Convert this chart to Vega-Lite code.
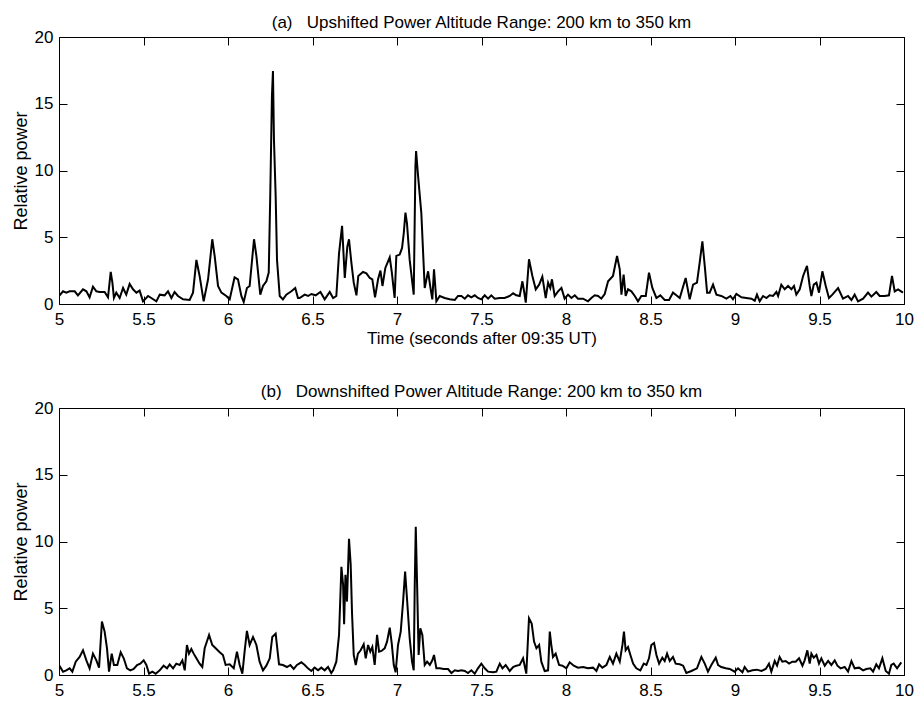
{
"$schema": "https://vega.github.io/schema/vega-lite/v6.json",
"padding": {"left": 11, "top": 13, "right": 6, "bottom": 0},
"spacing": 35,
"background": "white",
"config": {
  "font": "Liberation Sans",
  "view": {"stroke": "black", "strokeWidth": 1},
  "axis": {"grid": false, "domain": false, "tickColor": "black", "tickSize": -8, "tickWidth": 1, "labelColor": "black", "labelFontSize": 17, "labelFont": "Liberation Sans", "titleFont": "Liberation Sans", "titleFontSize": 17, "titleFontWeight": "normal", "titleColor": "black", "labelFlush": false, "labelOverlap": false},
  "title": {"fontSize": 17, "fontWeight": "normal", "font": "Liberation Sans", "color": "black", "anchor": "middle"}
},
"datasets": {
"up": [
{"t":5.0,"v":0.6},{"t":5.024,"v":0.95},{"t":5.043,"v":0.85},{"t":5.063,"v":0.95},{"t":5.093,"v":0.95},{"t":5.112,"v":0.65},{"t":5.142,"v":1.1},{"t":5.162,"v":0.95},{"t":5.181,"v":0.5},{"t":5.201,"v":1.3},{"t":5.221,"v":0.95},{"t":5.241,"v":0.9},{"t":5.27,"v":0.9},{"t":5.29,"v":0.5},{"t":5.306,"v":2.4},{"t":5.316,"v":1.6},{"t":5.325,"v":0.45},{"t":5.339,"v":0.85},{"t":5.359,"v":0.45},{"t":5.379,"v":1.2},{"t":5.398,"v":0.7},{"t":5.418,"v":1.5},{"t":5.438,"v":1.1},{"t":5.458,"v":0.85},{"t":5.477,"v":1.0},{"t":5.497,"v":0.2},{"t":5.527,"v":0.6},{"t":5.546,"v":0.45},{"t":5.576,"v":0.2},{"t":5.596,"v":0.7},{"t":5.625,"v":0.65},{"t":5.645,"v":0.95},{"t":5.665,"v":0.45},{"t":5.684,"v":0.9},{"t":5.704,"v":0.6},{"t":5.734,"v":0.35},{"t":5.773,"v":0.3},{"t":5.793,"v":0.85},{"t":5.813,"v":3.3},{"t":5.832,"v":2.1},{"t":5.856,"v":0.2},{"t":5.882,"v":1.85},{"t":5.907,"v":4.85},{"t":5.921,"v":3.6},{"t":5.941,"v":1.35},{"t":5.961,"v":0.85},{"t":5.99,"v":0.6},{"t":6.01,"v":0.35},{"t":6.039,"v":2.0},{"t":6.059,"v":1.85},{"t":6.079,"v":0.6},{"t":6.093,"v":0.15},{"t":6.112,"v":1.2},{"t":6.128,"v":1.35},{"t":6.154,"v":4.85},{"t":6.168,"v":3.6},{"t":6.191,"v":0.7},{"t":6.207,"v":1.35},{"t":6.227,"v":1.7},{"t":6.241,"v":2.35},{"t":6.25,"v":8.1},{"t":6.26,"v":15.6},{"t":6.266,"v":17.45},{"t":6.272,"v":12.3},{"t":6.282,"v":8.1},{"t":6.29,"v":3.3},{"t":6.306,"v":0.6},{"t":6.325,"v":0.35},{"t":6.345,"v":0.7},{"t":6.375,"v":0.95},{"t":6.398,"v":1.2},{"t":6.414,"v":0.45},{"t":6.424,"v":0.45},{"t":6.454,"v":0.7},{"t":6.474,"v":0.6},{"t":6.493,"v":0.75},{"t":6.519,"v":0.65},{"t":6.547,"v":0.9},{"t":6.572,"v":0.35},{"t":6.602,"v":0.9},{"t":6.622,"v":0.45},{"t":6.641,"v":0.6},{"t":6.657,"v":3.8},{"t":6.675,"v":5.85},{"t":6.691,"v":1.95},{"t":6.706,"v":4.3},{"t":6.716,"v":4.85},{"t":6.73,"v":3.1},{"t":6.744,"v":1.6},{"t":6.76,"v":0.65},{"t":6.771,"v":2.1},{"t":6.799,"v":2.4},{"t":6.819,"v":2.3},{"t":6.839,"v":1.95},{"t":6.854,"v":1.85},{"t":6.87,"v":0.5},{"t":6.888,"v":1.85},{"t":6.902,"v":2.5},{"t":6.914,"v":1.35},{"t":6.931,"v":2.7},{"t":6.957,"v":3.5},{"t":6.969,"v":2.4},{"t":6.986,"v":0.45},{"t":6.996,"v":3.6},{"t":7.016,"v":3.7},{"t":7.03,"v":4.2},{"t":7.04,"v":5.3},{"t":7.05,"v":6.85},{"t":7.059,"v":6.05},{"t":7.075,"v":3.3},{"t":7.099,"v":0.7},{"t":7.109,"v":10.3},{"t":7.113,"v":11.45},{"t":7.125,"v":9.55},{"t":7.144,"v":6.8},{"t":7.164,"v":1.2},{"t":7.184,"v":2.45},{"t":7.198,"v":1.2},{"t":7.209,"v":0.35},{"t":7.219,"v":2.6},{"t":7.233,"v":0.2},{"t":7.253,"v":0.6},{"t":7.282,"v":0.45},{"t":7.312,"v":0.35},{"t":7.342,"v":0.3},{"t":7.361,"v":0.6},{"t":7.381,"v":0.6},{"t":7.401,"v":0.4},{"t":7.42,"v":0.65},{"t":7.44,"v":0.5},{"t":7.46,"v":0.65},{"t":7.479,"v":0.45},{"t":7.499,"v":0.35},{"t":7.519,"v":0.65},{"t":7.539,"v":0.4},{"t":7.558,"v":0.65},{"t":7.578,"v":0.4},{"t":7.608,"v":0.45},{"t":7.637,"v":0.45},{"t":7.667,"v":0.6},{"t":7.687,"v":0.8},{"t":7.706,"v":0.65},{"t":7.726,"v":0.6},{"t":7.742,"v":1.7},{"t":7.752,"v":0.95},{"t":7.762,"v":0.1},{"t":7.781,"v":3.35},{"t":7.801,"v":2.1},{"t":7.821,"v":1.1},{"t":7.841,"v":1.45},{"t":7.86,"v":2.05},{"t":7.88,"v":0.45},{"t":7.894,"v":1.6},{"t":7.907,"v":1.2},{"t":7.917,"v":1.85},{"t":7.933,"v":0.6},{"t":7.953,"v":0.95},{"t":7.973,"v":1.2},{"t":7.992,"v":0.4},{"t":8.012,"v":0.7},{"t":8.032,"v":0.45},{"t":8.052,"v":0.65},{"t":8.071,"v":0.4},{"t":8.101,"v":0.4},{"t":8.13,"v":0.2},{"t":8.15,"v":0.45},{"t":8.17,"v":0.65},{"t":8.19,"v":0.6},{"t":8.209,"v":0.4},{"t":8.229,"v":0.75},{"t":8.249,"v":1.7},{"t":8.278,"v":2.1},{"t":8.302,"v":3.6},{"t":8.318,"v":2.6},{"t":8.328,"v":0.7},{"t":8.341,"v":2.2},{"t":8.353,"v":0.6},{"t":8.367,"v":1.1},{"t":8.387,"v":0.95},{"t":8.407,"v":0.6},{"t":8.426,"v":0.2},{"t":8.446,"v":0.6},{"t":8.472,"v":0.6},{"t":8.491,"v":2.35},{"t":8.511,"v":1.2},{"t":8.535,"v":0.45},{"t":8.558,"v":0.65},{"t":8.584,"v":0.3},{"t":8.61,"v":0.3},{"t":8.633,"v":0.85},{"t":8.653,"v":0.65},{"t":8.673,"v":0.45},{"t":8.708,"v":1.95},{"t":8.732,"v":0.35},{"t":8.752,"v":1.45},{"t":8.775,"v":1.6},{"t":8.791,"v":3.1},{"t":8.807,"v":4.7},{"t":8.821,"v":2.85},{"t":8.835,"v":0.85},{"t":8.85,"v":0.85},{"t":8.87,"v":1.45},{"t":8.89,"v":0.7},{"t":8.919,"v":0.6},{"t":8.949,"v":0.4},{"t":8.973,"v":0.6},{"t":8.988,"v":0.35},{"t":9.008,"v":0.75},{"t":9.038,"v":0.5},{"t":9.067,"v":0.45},{"t":9.097,"v":0.4},{"t":9.117,"v":0.25},{"t":9.13,"v":0.7},{"t":9.146,"v":0.2},{"t":9.166,"v":0.6},{"t":9.186,"v":0.45},{"t":9.205,"v":0.65},{"t":9.225,"v":0.6},{"t":9.245,"v":0.9},{"t":9.255,"v":0.6},{"t":9.274,"v":1.45},{"t":9.294,"v":1.1},{"t":9.314,"v":1.35},{"t":9.334,"v":1.1},{"t":9.349,"v":1.35},{"t":9.363,"v":0.7},{"t":9.383,"v":1.1},{"t":9.403,"v":2.1},{"t":9.426,"v":2.85},{"t":9.442,"v":1.35},{"t":9.452,"v":0.6},{"t":9.466,"v":1.45},{"t":9.482,"v":1.6},{"t":9.497,"v":0.85},{"t":9.517,"v":2.45},{"t":9.537,"v":1.35},{"t":9.556,"v":0.45},{"t":9.576,"v":0.7},{"t":9.61,"v":1.2},{"t":9.639,"v":0.4},{"t":9.669,"v":0.6},{"t":9.689,"v":0.3},{"t":9.708,"v":0.7},{"t":9.728,"v":0.2},{"t":9.758,"v":0.4},{"t":9.787,"v":0.85},{"t":9.807,"v":0.55},{"t":9.836,"v":0.9},{"t":9.856,"v":0.6},{"t":9.886,"v":0.6},{"t":9.911,"v":0.65},{"t":9.929,"v":2.1},{"t":9.945,"v":0.95},{"t":9.965,"v":1.1},{"t":9.994,"v":0.85}
],
"down": [
{"t":5.0,"v":0.75},{"t":5.024,"v":0.25},{"t":5.043,"v":0.35},{"t":5.063,"v":0.5},{"t":5.079,"v":0.25},{"t":5.099,"v":1.0},{"t":5.122,"v":1.35},{"t":5.142,"v":1.85},{"t":5.162,"v":1.1},{"t":5.181,"v":0.5},{"t":5.201,"v":1.6},{"t":5.221,"v":1.1},{"t":5.237,"v":0.55},{"t":5.254,"v":4.0},{"t":5.27,"v":3.25},{"t":5.284,"v":2.0},{"t":5.296,"v":0.25},{"t":5.312,"v":1.6},{"t":5.325,"v":0.75},{"t":5.345,"v":0.75},{"t":5.365,"v":1.7},{"t":5.383,"v":1.25},{"t":5.402,"v":0.5},{"t":5.422,"v":0.35},{"t":5.442,"v":0.45},{"t":5.462,"v":0.75},{"t":5.481,"v":0.85},{"t":5.501,"v":1.1},{"t":5.517,"v":0.75},{"t":5.533,"v":0.1},{"t":5.552,"v":0.25},{"t":5.572,"v":0.1},{"t":5.596,"v":0.35},{"t":5.619,"v":0.7},{"t":5.639,"v":0.5},{"t":5.655,"v":0.8},{"t":5.675,"v":0.5},{"t":5.694,"v":0.85},{"t":5.714,"v":0.75},{"t":5.73,"v":1.1},{"t":5.744,"v":0.35},{"t":5.757,"v":2.25},{"t":5.769,"v":1.6},{"t":5.783,"v":1.95},{"t":5.797,"v":1.6},{"t":5.813,"v":1.25},{"t":5.832,"v":0.85},{"t":5.848,"v":0.6},{"t":5.862,"v":2.0},{"t":5.888,"v":3.0},{"t":5.907,"v":2.25},{"t":5.927,"v":2.0},{"t":5.951,"v":1.7},{"t":5.97,"v":1.5},{"t":5.986,"v":0.75},{"t":6.01,"v":0.8},{"t":6.034,"v":0.5},{"t":6.053,"v":1.75},{"t":6.069,"v":0.75},{"t":6.085,"v":0.1},{"t":6.099,"v":1.85},{"t":6.112,"v":3.3},{"t":6.128,"v":2.25},{"t":6.148,"v":2.85},{"t":6.168,"v":2.25},{"t":6.187,"v":1.0},{"t":6.207,"v":0.35},{"t":6.227,"v":0.7},{"t":6.247,"v":1.25},{"t":6.262,"v":2.85},{"t":6.282,"v":3.1},{"t":6.302,"v":0.8},{"t":6.325,"v":0.75},{"t":6.349,"v":0.6},{"t":6.369,"v":0.75},{"t":6.389,"v":0.45},{"t":6.408,"v":0.75},{"t":6.434,"v":0.95},{"t":6.454,"v":0.75},{"t":6.473,"v":0.5},{"t":6.493,"v":0.3},{"t":6.513,"v":0.55},{"t":6.533,"v":0.35},{"t":6.552,"v":0.55},{"t":6.572,"v":0.35},{"t":6.592,"v":0.6},{"t":6.611,"v":0.15},{"t":6.622,"v":0.35},{"t":6.641,"v":1.0},{"t":6.657,"v":3.0},{"t":6.671,"v":8.1},{"t":6.681,"v":6.75},{"t":6.687,"v":3.8},{"t":6.695,"v":7.5},{"t":6.704,"v":5.5},{"t":6.716,"v":10.2},{"t":6.726,"v":8.25},{"t":6.734,"v":4.6},{"t":6.744,"v":1.5},{"t":6.756,"v":0.75},{"t":6.769,"v":1.6},{"t":6.785,"v":1.85},{"t":6.803,"v":2.3},{"t":6.815,"v":1.25},{"t":6.829,"v":2.25},{"t":6.842,"v":1.75},{"t":6.854,"v":2.1},{"t":6.868,"v":0.75},{"t":6.882,"v":3.0},{"t":6.894,"v":1.75},{"t":6.908,"v":1.8},{"t":6.927,"v":2.0},{"t":6.941,"v":2.5},{"t":6.957,"v":3.55},{"t":6.969,"v":2.35},{"t":6.981,"v":0.75},{"t":6.992,"v":0.2},{"t":7.006,"v":2.25},{"t":7.022,"v":3.25},{"t":7.036,"v":5.5},{"t":7.048,"v":7.75},{"t":7.059,"v":5.75},{"t":7.075,"v":2.75},{"t":7.089,"v":1.0},{"t":7.099,"v":0.35},{"t":7.105,"v":6.75},{"t":7.111,"v":11.1},{"t":7.119,"v":6.75},{"t":7.128,"v":1.5},{"t":7.138,"v":3.5},{"t":7.15,"v":3.0},{"t":7.164,"v":0.75},{"t":7.178,"v":1.0},{"t":7.194,"v":0.75},{"t":7.209,"v":1.1},{"t":7.219,"v":1.5},{"t":7.233,"v":0.5},{"t":7.253,"v":0.5},{"t":7.276,"v":0.45},{"t":7.302,"v":0.45},{"t":7.322,"v":0.15},{"t":7.342,"v":0.35},{"t":7.361,"v":0.3},{"t":7.381,"v":0.35},{"t":7.401,"v":0.3},{"t":7.42,"v":0.15},{"t":7.44,"v":0.35},{"t":7.46,"v":0.1},{"t":7.479,"v":0.5},{"t":7.499,"v":0.85},{"t":7.519,"v":0.5},{"t":7.539,"v":0.25},{"t":7.568,"v":0.2},{"t":7.588,"v":0.25},{"t":7.608,"v":0.85},{"t":7.624,"v":0.5},{"t":7.643,"v":0.75},{"t":7.667,"v":0.3},{"t":7.687,"v":0.6},{"t":7.706,"v":0.7},{"t":7.726,"v":0.75},{"t":7.746,"v":1.25},{"t":7.765,"v":0.1},{"t":7.781,"v":4.25},{"t":7.797,"v":3.85},{"t":7.811,"v":2.5},{"t":7.825,"v":2.0},{"t":7.841,"v":2.25},{"t":7.854,"v":1.0},{"t":7.874,"v":0.3},{"t":7.894,"v":0.35},{"t":7.904,"v":3.25},{"t":7.913,"v":2.25},{"t":7.923,"v":1.35},{"t":7.939,"v":1.6},{"t":7.959,"v":0.75},{"t":7.979,"v":0.7},{"t":8.002,"v":0.5},{"t":8.022,"v":0.95},{"t":8.046,"v":0.7},{"t":8.071,"v":0.55},{"t":8.101,"v":0.6},{"t":8.13,"v":0.5},{"t":8.16,"v":0.55},{"t":8.18,"v":0.3},{"t":8.196,"v":0.8},{"t":8.215,"v":0.55},{"t":8.239,"v":0.75},{"t":8.259,"v":1.35},{"t":8.278,"v":0.85},{"t":8.298,"v":1.6},{"t":8.318,"v":1.0},{"t":8.334,"v":2.25},{"t":8.343,"v":3.25},{"t":8.353,"v":1.85},{"t":8.367,"v":2.1},{"t":8.381,"v":1.5},{"t":8.397,"v":0.85},{"t":8.416,"v":0.5},{"t":8.44,"v":0.35},{"t":8.46,"v":0.85},{"t":8.476,"v":0.75},{"t":8.491,"v":1.25},{"t":8.505,"v":2.25},{"t":8.521,"v":2.4},{"t":8.535,"v":1.5},{"t":8.551,"v":0.85},{"t":8.57,"v":1.3},{"t":8.584,"v":1.05},{"t":8.598,"v":1.6},{"t":8.614,"v":1.05},{"t":8.633,"v":1.35},{"t":8.649,"v":0.85},{"t":8.673,"v":0.8},{"t":8.693,"v":0.7},{"t":8.712,"v":0.15},{"t":8.742,"v":0.3},{"t":8.775,"v":0.5},{"t":8.801,"v":1.35},{"t":8.821,"v":0.85},{"t":8.84,"v":0.25},{"t":8.86,"v":0.75},{"t":8.886,"v":1.3},{"t":8.9,"v":0.75},{"t":8.919,"v":0.6},{"t":8.945,"v":0.5},{"t":8.969,"v":0.45},{"t":8.998,"v":0.25},{"t":9.018,"v":0.5},{"t":9.044,"v":0.2},{"t":9.057,"v":0.6},{"t":9.077,"v":0.25},{"t":9.103,"v":0.35},{"t":9.13,"v":0.4},{"t":9.156,"v":0.3},{"t":9.182,"v":0.45},{"t":9.201,"v":0.85},{"t":9.215,"v":0.25},{"t":9.235,"v":1.05},{"t":9.249,"v":0.7},{"t":9.264,"v":1.35},{"t":9.28,"v":1.0},{"t":9.3,"v":1.05},{"t":9.32,"v":0.85},{"t":9.339,"v":1.0},{"t":9.359,"v":1.0},{"t":9.379,"v":1.25},{"t":9.399,"v":0.7},{"t":9.412,"v":1.1},{"t":9.428,"v":1.85},{"t":9.442,"v":0.85},{"t":9.452,"v":1.6},{"t":9.466,"v":1.3},{"t":9.482,"v":1.5},{"t":9.497,"v":0.85},{"t":9.511,"v":1.25},{"t":9.531,"v":0.7},{"t":9.551,"v":1.05},{"t":9.57,"v":0.75},{"t":9.59,"v":1.1},{"t":9.606,"v":0.7},{"t":9.625,"v":0.5},{"t":9.649,"v":0.6},{"t":9.669,"v":0.25},{"t":9.689,"v":1.05},{"t":9.708,"v":0.5},{"t":9.734,"v":0.55},{"t":9.758,"v":0.35},{"t":9.777,"v":0.45},{"t":9.801,"v":0.5},{"t":9.817,"v":0.25},{"t":9.836,"v":0.8},{"t":9.852,"v":0.5},{"t":9.872,"v":1.25},{"t":9.892,"v":0.3},{"t":9.911,"v":0.1},{"t":9.925,"v":0.75},{"t":9.939,"v":0.85},{"t":9.959,"v":0.5},{"t":9.984,"v":0.95}
]
},
"vconcat": [
{
  "width": 845, "height": 267,
  "title": {"text": "(a)\u00a0\u00a0 Upshifted Power Altitude Range: 200 km to 350 km", "offset": -4},
  "data": {"name": "up"},
  "layer": [
    {"mark": {"type": "line", "color": "black", "strokeWidth": 2, "clip": true},
     "encoding": {
       "x": {"field": "t", "type": "quantitative", "scale": {"domain": [5, 10], "nice": false, "zero": false},
             "axis": {"orient": "bottom", "values": [5,5.5,6,6.5,7,7.5,8,8.5,9,9.5,10], "labelExpr": "'' + datum.value", "labelPadding": 15, "title": "Time (seconds after 09:35 UT)", "titlePadding": 3}},
       "y": {"field": "v", "type": "quantitative", "scale": {"domain": [0, 20], "nice": false},
             "axis": {"orient": "left", "values": [0,5,10,15,20], "labelPadding": 14, "title": "Relative power", "titleFontSize": 18, "titlePadding": 4}}
     }},
    {"mark": {"type": "line", "opacity": 0},
     "encoding": {
       "x": {"field": "t", "type": "quantitative", "axis": {"orient": "top", "values": [5,5.5,6,6.5,7,7.5,8,8.5,9,9.5,10], "labels": false, "title": null}},
       "y": {"field": "v", "type": "quantitative", "axis": {"orient": "right", "values": [0,5,10,15,20], "labels": false, "title": null}}
     }}
  ],
  "resolve": {"axis": {"x": "independent", "y": "independent"}}
},
{
  "width": 845, "height": 267,
  "title": {"text": "(b)\u00a0\u00a0 Downshifted Power Altitude Range: 200 km to 350 km", "offset": -2},
  "data": {"name": "down"},
  "layer": [
    {"mark": {"type": "line", "color": "black", "strokeWidth": 2, "clip": true},
     "encoding": {
       "x": {"field": "t", "type": "quantitative", "scale": {"domain": [5, 10], "nice": false, "zero": false},
             "axis": {"orient": "bottom", "values": [5,5.5,6,6.5,7,7.5,8,8.5,9,9.5,10], "labelExpr": "'' + datum.value", "labelPadding": 15, "title": null}},
       "y": {"field": "v", "type": "quantitative", "scale": {"domain": [0, 20], "nice": false},
             "axis": {"orient": "left", "values": [0,5,10,15,20], "labelPadding": 14, "title": "Relative power", "titleFontSize": 18, "titlePadding": 4}}
     }},
    {"mark": {"type": "line", "opacity": 0},
     "encoding": {
       "x": {"field": "t", "type": "quantitative", "axis": {"orient": "top", "values": [5,5.5,6,6.5,7,7.5,8,8.5,9,9.5,10], "labels": false, "title": null}},
       "y": {"field": "v", "type": "quantitative", "axis": {"orient": "right", "values": [0,5,10,15,20], "labels": false, "title": null}}
     }}
  ],
  "resolve": {"axis": {"x": "independent", "y": "independent"}}
}
]
}
